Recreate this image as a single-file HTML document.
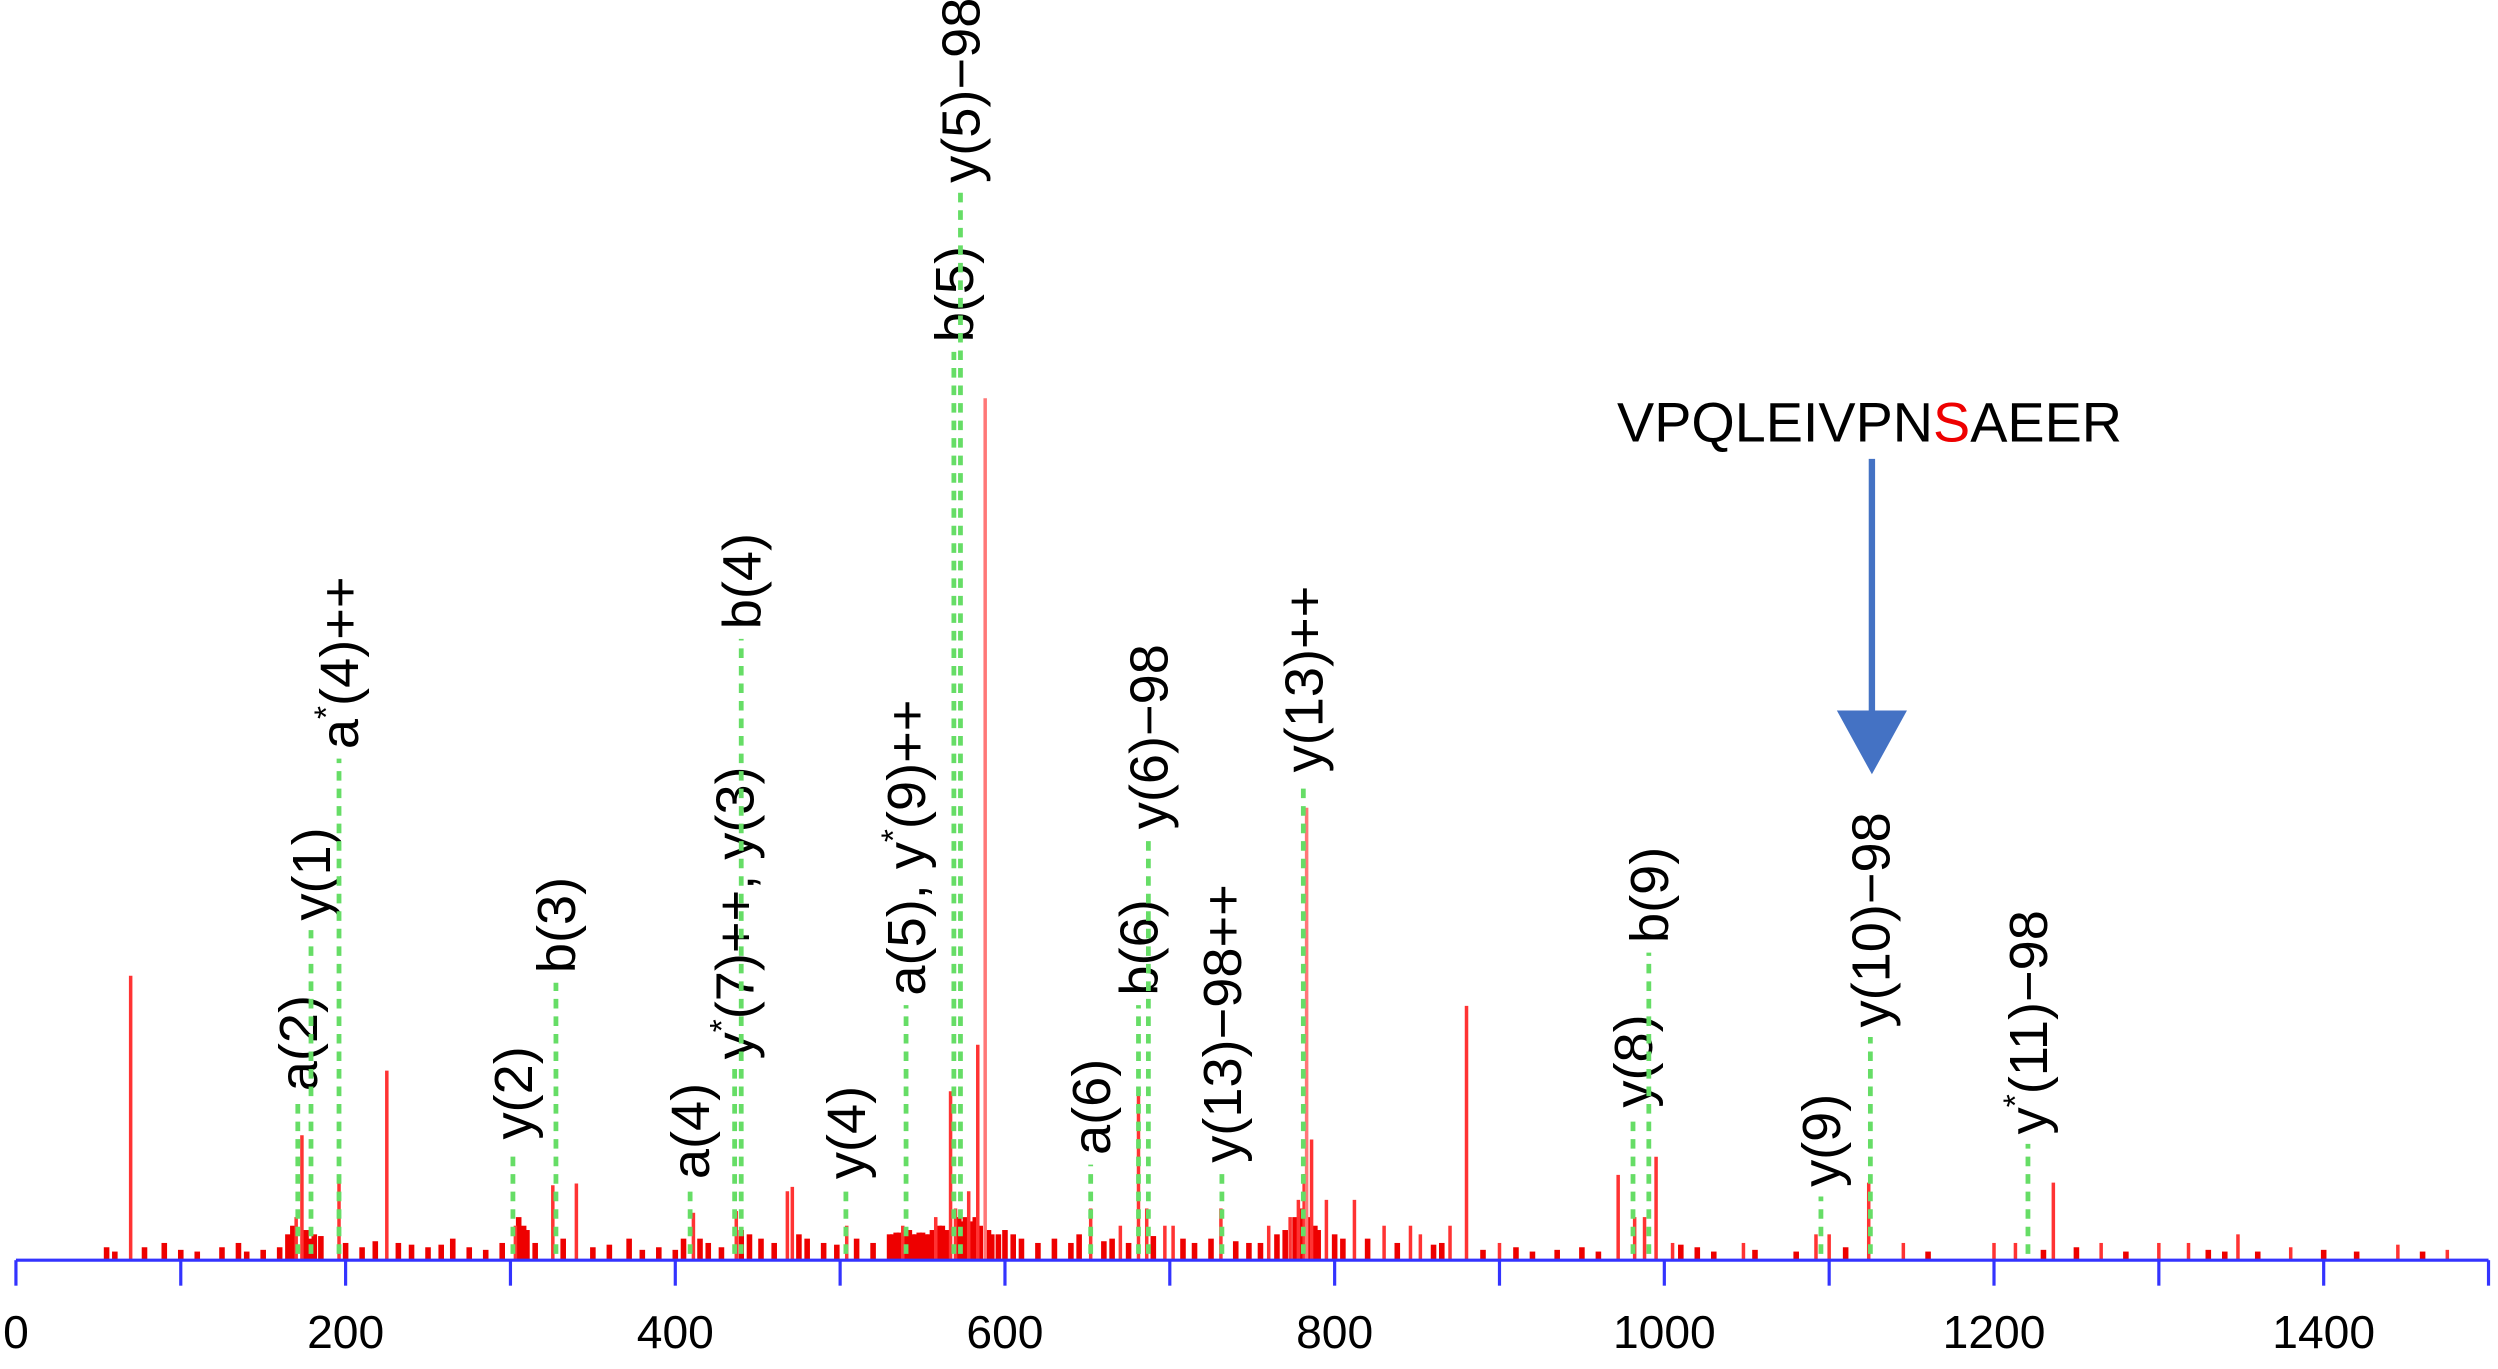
<!DOCTYPE html>
<html><head><meta charset="utf-8"><style>
html,body{margin:0;padding:0;background:#fff}
svg{display:block}
text{font-family:"Liberation Sans",Arial,sans-serif}
</style></head><body>
<svg id="chart" width="2498" height="1369" viewBox="0 0 1568 859.3" preserveAspectRatio="none" xmlns="http://www.w3.org/2000/svg">
<g id="peaks"></g>
<g id="labels"></g>
<g id="axis"></g>
<text x="1015" y="277" font-size="35">VPQLEIVPN<tspan fill="#e00">S</tspan>AEER</text>
<line x1="1175" y1="288" x2="1175" y2="448" stroke="#4472c4" stroke-width="4"/>
<polygon points="1153,446 1197,446 1175,486" fill="#4472c4"/>
</svg>
<script>
const peakMz=[69.6,170,173.5,196,225,303,325.7,340,411,437,468,471,504,538,558,567,570,578,583.5,588,652,670,681,686,697,702,731,760,773,778,781.5,783,786,795,812,830,846,852,870,880,900,972,982,988,995,1005,1048,1092,1100,1124,1145,1200,1213,1236,1265,1300,1318,1348,1380,1445,1475];
const peakInt=[33,5,14.5,9.4,22,4,8.7,8.9,5.5,5.7,8,8.5,4,4,5,19.6,6,8,25,100,6,4,20,6,4,4,6,4,5,7,10,52.5,14,7,7,4,4,3,4,29.5,2,9.9,5,5,12,2,2,3,3,9,2,2,2,9,2,2,2,3,1.5,1.8,1.2];
const noiseMz=[55,60,78,90,100,110,125,135,140,150,160,165,168,176,178,181,185,200,210,218,232,240,250,258,265,275,285,295,305,308,310,315,332,350,360,372,380,390,400,405,415,420,428,440,445,452,460,475,480,490,498,510,520,530,532,534,536,540,542,544,546,548,550,552,554,556,560,562,565,572,574,576,580,582,585,590,592,596,600,605,610,620,630,640,645,660,665,675,690,708,715,725,740,748,755,765,770,776,780,785,788,790,800,805,820,838,860,865,890,910,920,935,950,960,1010,1020,1030,1055,1080,1110,1160,1230,1250,1280,1330,1340,1360,1400,1420,1460];
const noiseInt=[1.5,1,1.5,2,1.2,1,1.5,2,1,1.2,1.5,3,4,3.5,2.5,3,2.8,2,1.5,2.2,2,1.8,1.5,1.8,2.5,1.5,1.2,2,5,4,3.5,2,2.5,1.5,1.8,2.5,1.2,1.5,1.2,2.5,2.5,2,1.5,3.5,3,2.5,2,3,2.5,2,1.8,2.5,2,3,3,3.2,3.2,3.5,3.5,3,3,3.2,3.2,3,3,3.5,4,4,3.5,5,4.5,5,4.5,5,4,3.5,3,3,3.5,3,2.5,2,2.5,2,3,2.2,2.5,2,2.8,2.5,2,2.5,2.2,2,2,3,3.5,5,6,5,4,3.5,3,2.5,2.5,2,1.8,2,1.2,1.5,1,1.2,1.5,1,1.8,1.5,1,1.2,1,1.5,1,1.2,1.5,1,1.2,1,1,1.2,1,1];
const ionText=["a(2)","y(1)","a*(4)++","y(2)","b(3)","a(4)","y*(7)++, y(3)","b(4)","y(4)","a(5), y*(9)++","b(5)","y(5)\u221298","a(6)","b(6)","y(6)\u221298","y(13)\u221298++","y(13)++","y(8)","b(9)","y(9)","y(10)\u221298","y*(11)\u221298"];
const ionMz=[171,179,196,301.5,327.6,409,436,440,503.5,540,569,573,652,681,687,731.6,781,981,990.6,1095,1125,1220.6];
const ionLabelInt=[19.6,39.4,59.3,14,33.3,9.4,23.3,73.2,9.4,30.7,106.5,125,12.2,30.7,50,11.3,56.6,17.7,36.8,8.5,27,14.6];
const axisTicks=[0,100,200,300,400,500,600,700,800,900,1000,1100,1200,1300,1400,1500];
const axisLabels=["0","200","400","600","800","1000","1200","1400"];

const NS="http://www.w3.org/2000/svg";
const xs=m=>10+m*1.0347;
const ys=r=>791-r*5.41;
function mk(tag,parent){const e=document.createElementNS(NS,tag);parent.appendChild(e);return e;}

const pg=document.getElementById('peaks');
noiseMz.forEach((m,i)=>{
  const l=mk('line',pg);
  
  
  l.setAttribute('x1',xs(m));l.setAttribute('x2',xs(m));
  l.setAttribute('y1',791);l.setAttribute('y2',ys(noiseInt[i]));
  l.setAttribute('stroke','#e00');l.setAttribute('stroke-width','3.5');
});
peakMz.forEach((m,i)=>{
  const l=mk('line',pg);
  
  
  l.setAttribute('x1',xs(m));l.setAttribute('x2',xs(m));
  l.setAttribute('y1',791);l.setAttribute('y2',ys(peakInt[i]));
  l.setAttribute('stroke',peakInt[i]>40?'#f77':'#f33');l.setAttribute('stroke-width','2.2');
});

const lg=document.getElementById('labels');
ionText.forEach((t,i)=>{
  const x=xs(ionMz[i]);const yb=ys(ionLabelInt[i]);
  const d=mk('line',lg);
  
  
  d.setAttribute('x1',x);d.setAttribute('x2',x);
  d.setAttribute('y1',787);d.setAttribute('y2',yb+6);
  d.setAttribute('stroke','#6d6');d.setAttribute('stroke-width','3');d.setAttribute('stroke-dasharray','6 5');
  const tx=mk('text',lg);
  
  
  tx.setAttribute('font-size','34');
  tx.setAttribute('transform','translate('+(x+12)+','+yb+') rotate(-90)');
  const parts=t.split('*');
  parts.forEach((p,j)=>{
    if(j>0){const s=mk('tspan',tx);s.setAttribute('font-size','21');s.setAttribute('dy','-13');s.textContent='*';
      const r=mk('tspan',tx);r.setAttribute('dy','13');r.textContent=p;}
    else{const r=mk('tspan',tx);r.textContent=p;}
  });
});

const ag=document.getElementById('axis');
const al=mk('line',ag);


al.setAttribute('x1',xs(0));al.setAttribute('x2',xs(1500));al.setAttribute('y1',791);al.setAttribute('y2',791);
al.setAttribute('stroke','#33f');al.setAttribute('stroke-width','2');
axisTicks.forEach(v=>{
  const t=mk('line',ag);
  
  
  t.setAttribute('x1',xs(v));t.setAttribute('x2',xs(v));t.setAttribute('y1',791);t.setAttribute('y2',807);
  t.setAttribute('stroke','#33f');t.setAttribute('stroke-width','2');
});
axisLabels.forEach(s=>{
  const t=mk('text',ag);
  
  
  t.setAttribute('x',xs(parseFloat(s)));t.setAttribute('y',846);
  t.setAttribute('font-size','29');t.setAttribute('text-anchor','middle');
  t.textContent=s;
});
</script>
</body></html>
